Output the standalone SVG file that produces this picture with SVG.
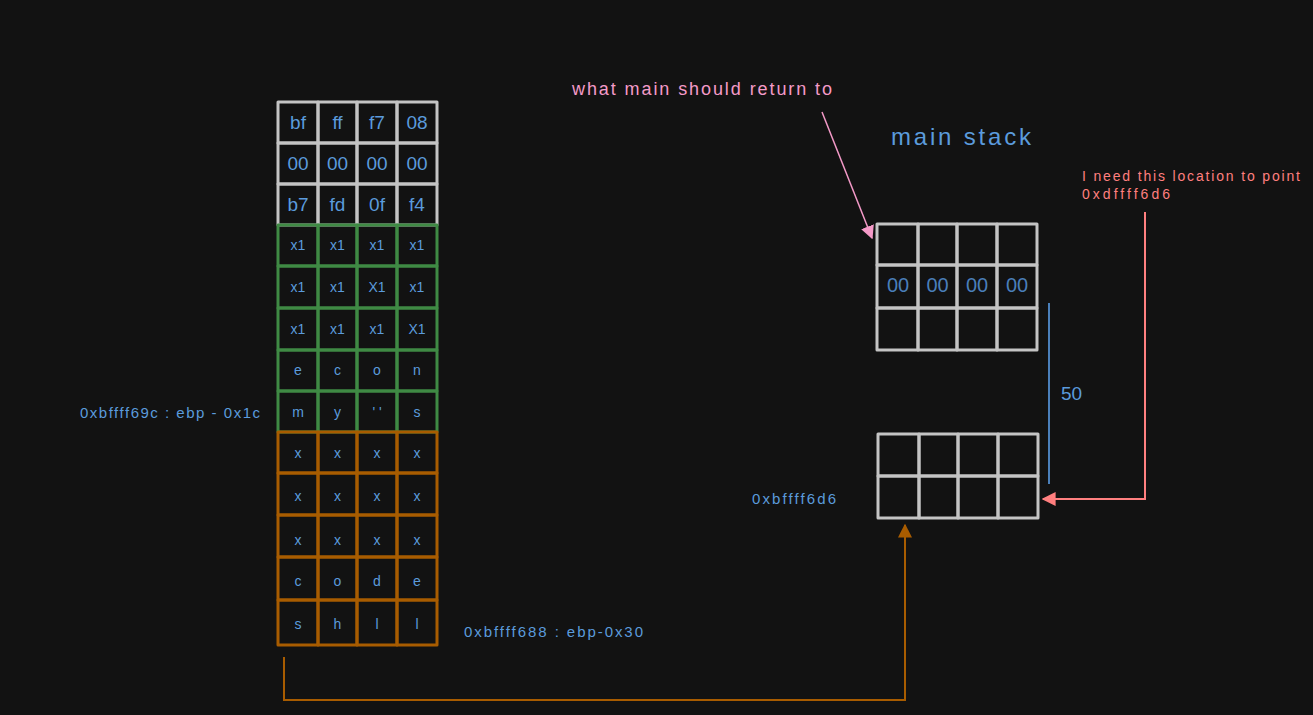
<svg xmlns="http://www.w3.org/2000/svg" width="1313" height="715" viewBox="0 0 1313 715">
<style>
  .bg{fill:#121212}
  .w{fill:none;stroke:#c4c4c4;stroke-width:3;stroke-linejoin:round}
  .g{fill:none;stroke:#3f8a44;stroke-width:3;stroke-linejoin:round}
  .b{fill:none;stroke:#a85c00;stroke-width:3;stroke-linejoin:round}
  text{font-family:"Liberation Sans","DejaVu Sans",sans-serif;}
  .t{fill:#5b9bdc;text-anchor:middle;dominant-baseline:central}
  .big{font-size:19px}
  .sm{font-size:14px}
  .lbl{fill:#5b9bdc;font-size:15px}
  .d{fill:#4a7fba;font-size:20px;text-anchor:middle;dominant-baseline:central}
</style>
<defs>
  <marker id="pinkA" viewBox="0 0 10 10" refX="9" refY="5" markerWidth="9" markerHeight="9" orient="auto" markerUnits="strokeWidth"><path d="M0,0 L10,5 L0,10 z" fill="#f49ac8"/></marker>
  <marker id="redA" viewBox="0 0 10 10" refX="9" refY="5" markerWidth="7" markerHeight="7" orient="auto" markerUnits="strokeWidth"><path d="M0,0 L10,5 L0,10 z" fill="#ff7f7f"/></marker>
  <marker id="brA" viewBox="0 0 10 10" refX="9" refY="5" markerWidth="7" markerHeight="7" orient="auto" markerUnits="strokeWidth"><path d="M0,0 L10,5 L0,10 z" fill="#a85c00"/></marker>
</defs>
<rect class="bg" x="0" y="0" width="1313" height="715"/>

<g id="stack-white">
  <rect class="w" x="278" y="102" width="40" height="41"/><rect class="w" x="318" y="102" width="39" height="41"/><rect class="w" x="357" y="102" width="40" height="41"/><rect class="w" x="397" y="102" width="40" height="41"/>
  <rect class="w" x="278" y="143" width="40" height="41"/><rect class="w" x="318" y="143" width="39" height="41"/><rect class="w" x="357" y="143" width="40" height="41"/><rect class="w" x="397" y="143" width="40" height="41"/>
  <rect class="w" x="278" y="184" width="40" height="41"/><rect class="w" x="318" y="184" width="39" height="41"/><rect class="w" x="357" y="184" width="40" height="41"/><rect class="w" x="397" y="184" width="40" height="41"/>
  <g class="t big">
    <text x="298" y="122">bf</text><text x="337.5" y="122">ff</text><text x="377" y="122">f7</text><text x="417" y="122">08</text>
    <text x="298" y="163">00</text><text x="337.5" y="163">00</text><text x="377" y="163">00</text><text x="417" y="163">00</text>
    <text x="298" y="204">b7</text><text x="337.5" y="204">fd</text><text x="377" y="204">0f</text><text x="417" y="204">f4</text>
  </g>
</g>

<g id="stack-green">
  <rect class="g" x="278" y="225" width="40" height="41"/><rect class="g" x="318" y="225" width="39" height="41"/><rect class="g" x="357" y="225" width="40" height="41"/><rect class="g" x="397" y="225" width="40" height="41"/>
  <rect class="g" x="278" y="266" width="40" height="42"/><rect class="g" x="318" y="266" width="39" height="42"/><rect class="g" x="357" y="266" width="40" height="42"/><rect class="g" x="397" y="266" width="40" height="42"/>
  <rect class="g" x="278" y="308" width="40" height="42"/><rect class="g" x="318" y="308" width="39" height="42"/><rect class="g" x="357" y="308" width="40" height="42"/><rect class="g" x="397" y="308" width="40" height="42"/>
  <rect class="g" x="278" y="350" width="40" height="41"/><rect class="g" x="318" y="350" width="39" height="41"/><rect class="g" x="357" y="350" width="40" height="41"/><rect class="g" x="397" y="350" width="40" height="41"/>
  <rect class="g" x="278" y="391" width="40" height="41"/><rect class="g" x="318" y="391" width="39" height="41"/><rect class="g" x="357" y="391" width="40" height="41"/><rect class="g" x="397" y="391" width="40" height="41"/>
  <g class="t sm">
    <text x="298" y="245">x1</text><text x="337.5" y="245">x1</text><text x="377" y="245">x1</text><text x="417" y="245">x1</text>
    <text x="298" y="287">x1</text><text x="337.5" y="287">x1</text><text x="377" y="287">X1</text><text x="417" y="287">x1</text>
    <text x="298" y="329">x1</text><text x="337.5" y="329">x1</text><text x="377" y="329">x1</text><text x="417" y="329">X1</text>
    <text x="298" y="370">e</text><text x="337.5" y="370">c</text><text x="377" y="370">o</text><text x="417" y="370">n</text>
    <text x="298" y="412">m</text><text x="337.5" y="412">y</text><text x="377" y="412">' '</text><text x="417" y="412">s</text>
  </g>
</g>

<g id="stack-brown">
  <rect class="b" x="278" y="432" width="40" height="41"/><rect class="b" x="318" y="432" width="39" height="41"/><rect class="b" x="357" y="432" width="40" height="41"/><rect class="b" x="397" y="432" width="40" height="41"/>
  <rect class="b" x="278" y="473" width="40" height="42"/><rect class="b" x="318" y="473" width="39" height="42"/><rect class="b" x="357" y="473" width="40" height="42"/><rect class="b" x="397" y="473" width="40" height="42"/>
  <rect class="b" x="278" y="515" width="40" height="42"/><rect class="b" x="318" y="515" width="39" height="42"/><rect class="b" x="357" y="515" width="40" height="42"/><rect class="b" x="397" y="515" width="40" height="42"/>
  <rect class="b" x="278" y="557" width="40" height="43"/><rect class="b" x="318" y="557" width="39" height="43"/><rect class="b" x="357" y="557" width="40" height="43"/><rect class="b" x="397" y="557" width="40" height="43"/>
  <rect class="b" x="278" y="600" width="40" height="45"/><rect class="b" x="318" y="600" width="39" height="45"/><rect class="b" x="357" y="600" width="40" height="45"/><rect class="b" x="397" y="600" width="40" height="45"/>
  <g class="t sm">
    <text x="298" y="453">x</text><text x="337.5" y="453">x</text><text x="377" y="453">x</text><text x="417" y="453">x</text>
    <text x="298" y="496">x</text><text x="337.5" y="496">x</text><text x="377" y="496">x</text><text x="417" y="496">x</text>
    <text x="298" y="540">x</text><text x="337.5" y="540">x</text><text x="377" y="540">x</text><text x="417" y="540">x</text>
    <text x="298" y="581">c</text><text x="337.5" y="581">o</text><text x="377" y="581">d</text><text x="417" y="581">e</text>
    <text x="298" y="624">s</text><text x="337.5" y="624">h</text><text x="377" y="624">l</text><text x="417" y="624">l</text>
  </g>
</g>

<g id="label-ebp-1c"><text class="lbl" x="80" y="418" textLength="180" lengthAdjust="spacing">0xbffff69c : ebp - 0x1c</text></g>
<g id="label-ebp-30"><text class="lbl" x="464" y="637" textLength="179" lengthAdjust="spacing">0xbffff688 : ebp-0x30</text></g>

<g id="label-return"><text x="572" y="95" fill="#f49ac8" font-size="18" textLength="260" lengthAdjust="spacing">what main should return to</text></g>
<g id="title-main"><text x="891" y="145" fill="#5b9bdc" font-size="24" textLength="140" lengthAdjust="spacing">main stack</text></g>

<g id="main-stack-top">
  <rect class="w" x="877" y="224" width="41" height="41"/><rect class="w" x="918" y="224" width="39" height="41"/><rect class="w" x="957" y="224" width="40" height="41"/><rect class="w" x="997" y="224" width="40" height="41"/>
  <rect class="w" x="877" y="265" width="41" height="43"/><rect class="w" x="918" y="265" width="39" height="43"/><rect class="w" x="957" y="265" width="40" height="43"/><rect class="w" x="997" y="265" width="40" height="43"/>
  <rect class="w" x="877" y="308" width="41" height="42"/><rect class="w" x="918" y="308" width="39" height="42"/><rect class="w" x="957" y="308" width="40" height="42"/><rect class="w" x="997" y="308" width="40" height="42"/>
  <text class="d" x="898" y="285">00</text><text class="d" x="937.5" y="285">00</text><text class="d" x="977" y="285">00</text><text class="d" x="1017" y="285">00</text>
</g>

<g id="main-stack-bottom">
  <rect class="w" x="878" y="434" width="41" height="42"/><rect class="w" x="919" y="434" width="39" height="42"/><rect class="w" x="958" y="434" width="40" height="42"/><rect class="w" x="998" y="434" width="40" height="42"/>
  <rect class="w" x="878" y="476" width="41" height="42"/><rect class="w" x="919" y="476" width="39" height="42"/><rect class="w" x="958" y="476" width="40" height="42"/><rect class="w" x="998" y="476" width="40" height="42"/>
</g>

<g id="label-6d6"><text class="lbl" x="752" y="504" textLength="84" lengthAdjust="spacing">0xbffff6d6</text></g>

<g id="note-point"><text x="1082" y="181" fill="#ff7f7f" font-size="14" textLength="218" lengthAdjust="spacing">I need this location to point</text><text x="1082" y="199" fill="#ff7f7f" font-size="14" textLength="88" lengthAdjust="spacing">0xdffff6d6</text></g>

<g id="label-50"><text x="1061" y="400" fill="#5b9bdc" font-size="19">50</text></g>

<g id="connectors">
  <line x1="1049" y1="303" x2="1049" y2="484" stroke="#4a7fba" stroke-width="2"/>
  <path d="M822,112 L872,238" fill="none" stroke="#f49ac8" stroke-width="1.5" marker-end="url(#pinkA)"/>
  <path d="M1145,212 L1145,499 L1043,499" fill="none" stroke="#ff7f7f" stroke-width="2" marker-end="url(#redA)"/>
  <path d="M284,657 L284,700 L905,700 L905,525" fill="none" stroke="#a85c00" stroke-width="2" marker-end="url(#brA)"/>
</g>
</svg>
